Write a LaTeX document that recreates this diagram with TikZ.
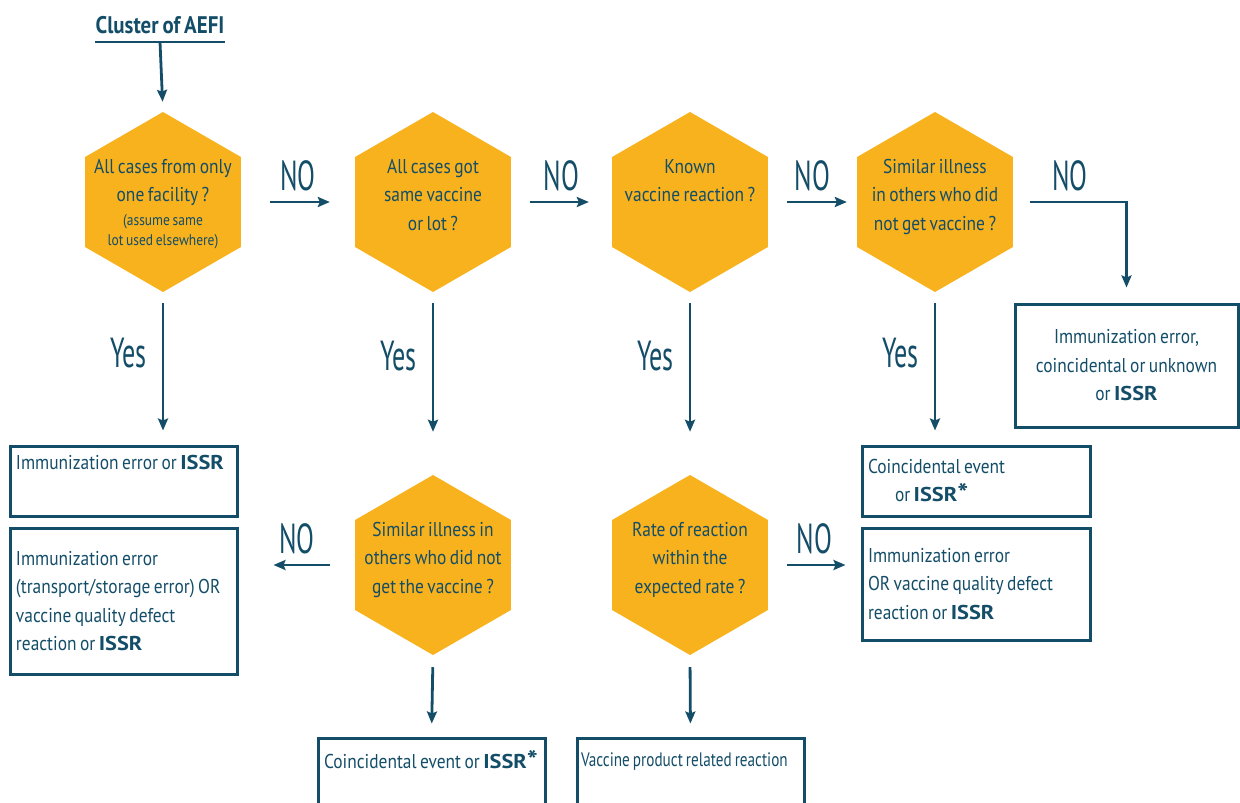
\documentclass[tikz,border=0pt]{standalone}
\usepackage{fontspec}
\setmainfont[FakeStretch=0.87,WordSpace=0.75]{PT Sans}
\newfontfamily\signfont[FakeStretch=0.62]{PT Sans}
\newfontfamily\issrfont[FakeStretch=1.12]{PT Sans}
\newfontfamily\narrowfont[FakeStretch=0.78,WordSpace=0.75]{PT Sans}
\usetikzlibrary{shapes.geometric,arrows.meta,positioning}
\definecolor{navy}{RGB}{19,77,104}
\definecolor{amber}{RGB}{248,178,30}
\newcommand{\issr}{{\issrfont\bfseries ISSR}}
\newcommand{\issrstar}{{\issrfont\bfseries ISSR\raisebox{-1pt}{\fontsize{26}{26}\selectfont*}}}
\newcommand{\notefont}{\fontsize{15.5}{20}\selectfont}

\begin{document}
\begin{tikzpicture}[x=1pt,y=-1pt]
\tikzset{ >={Stealth[length=12pt,width=10pt,inset=2pt]},
  hexa/.style={regular polygon, regular polygon sides=6, shape border rotate=30,
    minimum size=180pt, inner sep=0pt, fill=amber},
  qtext/.style={anchor=north, align=center, text=navy, inner sep=0pt,
    font=\fontsize{20}{28.5}\selectfont},
  outbox/.style={draw=navy, line width=3pt, text=navy, align=flush left, inner xsep=6pt,
    font=\fontsize{20}{28.5}\selectfont},
  arr/.style={->, draw=navy, line width=2.8pt},
  yesno/.style={text=navy, inner sep=0pt, font=\signfont\fontsize{42}{42}\selectfont},
}

\clip (0,0) rectangle (1240,803);

%%% Titulo
\node [anchor=south, minimum width=130pt, inner xsep=0pt, inner ysep=8pt, text=navy,
  font=\fontsize{24}{24}\selectfont\bfseries] (title) at (160,42) {Cluster of AEFI};
\draw [navy, line width=2.5pt] (title.south west) -- (title.south east);

%%% Hexagonos

% primeira linha
\node [hexa] (h1) at (163,202) { };
\node [qtext] (h1t) at ([yshift=43pt]h1.center) {All cases from only\\one facility ?\\[-5pt]
  {\notefont (assume same}\\[-8pt]{\notefont lot used elsewhere)}};

\node [hexa] (h2) at (433,202) { };
\node [qtext] (h2t) at ([yshift=43pt]h2.center) {All cases got\\same vaccine\\or lot ?};

\node [hexa] (h3) at (690,202) { };
\node [qtext] (h3t) at ([yshift=43pt]h3.center) {Known\\vaccine reaction ?};

\node [hexa] (h4) at (935,202) { };
\node [qtext] (h4t) at ([yshift=43pt]h4.center) {Similar illness\\in others who did\\not get vaccine ?};

% segunda linha
\node [hexa] (h5) at (433,565) { };
\node [qtext] (h5t) at ([yshift=43pt]h5.center) {Similar illness in\\others who did not\\get the vaccine ?};

\node [hexa] (h6) at (690,565) { };
\node [qtext] (h6t) at ([yshift=43pt]h6.center) {Rate of reaction\\within the\\expected rate ?};

%%% Caixas

\node [outbox, align=center, minimum width=223pt, minimum height=123pt] (b0) at (1126.5,365.5)
  {Immunization error,\\coincidental or unknown\\or \issr};
\node [outbox, text width=215pt, minimum height=70pt] (b1) at (123.5,481)
  {Immunization error or \issr\\ \strut};
\node [outbox, text width=215pt, minimum height=146pt] (b2) at (123.5,601)
  {Immunization error\\(transport/storage error) OR\\vaccine quality defect\\reaction or \issr};
\node [outbox, text width=215pt, minimum height=80pt] (b3) at (431.5,778)
  {Coincidental event or \issrstar\\ \strut};
\node [outbox, text width=219pt, inner xsep=4pt, minimum height=80pt,
  font=\narrowfont\fontsize{19.5}{28.5}\selectfont] (b4) at (690.5,778)
  {Vaccine product related reaction\\ \strut};
\node [outbox, text width=216pt, minimum height=70pt] (b5) at (976,481)
  {Coincidental event\\\hspace*{27pt}or \issrstar};
\node [outbox, text width=216pt, minimum height=112pt] (b6) at (976,584)
  {Immunization error\\OR vaccine quality defect\\reaction or \issr};

%%% Linhas

% cluster -> h1
\draw [arr, shorten >=10pt] (title.south) -- (h1.north);

% NO para a direita
\draw [arr, shorten <=29pt, shorten >=25pt] (h1.east) -- node[yesno, above=10pt] {NO} (h2.west);
\draw [arr, shorten <=19pt, shorten >=23pt] (h2.east) -- node[yesno, above=10pt] {NO} (h3.west);
\draw [arr, shorten <=19pt, shorten >=10pt] (h3.east) -- node[yesno, above=10pt] {NO} (h4.west);
\draw [arr, shorten <=17pt, shorten >=15pt] (h4.east) -| node[yesno, pos=0.25, above=10pt] {NO} (b0.north);

% Yes para baixo
\draw [arr, shorten <=11pt, shorten >=14pt] (h1.south) -- node[yesno, pos=0.4, left=15pt] {Yes} (h1.south |- b1.north);
\draw [arr, shorten <=11pt, shorten >=43pt] (h2.south) -- node[yesno, pos=0.35, left=15pt] {Yes} (h5.north);
\draw [arr, shorten <=11pt, shorten >=43pt] (h3.south) -- node[yesno, pos=0.35, left=15pt] {Yes} (h6.north);
\draw [arr, shorten <=11pt, shorten >=14pt] (h4.south) -- node[yesno, pos=0.4, left=15pt] {Yes} (h4.south |- b5.north);

% segunda linha
\draw [arr, shorten <=25pt, shorten >=35pt] (h5.west) -- node[yesno, above=10pt] {NO} (h5.west -| b2.east);
\draw [arr, shorten <=19pt, shorten >=15pt] (h6.east) -- node[yesno, above=10pt] {NO} (h6.east -| b6.west);
\draw [arr, shorten <=12pt, shorten >=13pt] (h5.south) -- (b3.north);
\draw [arr, shorten <=12pt, shorten >=13pt] (h6.south) -- (b4.north);

\end{tikzpicture}
\end{document}
